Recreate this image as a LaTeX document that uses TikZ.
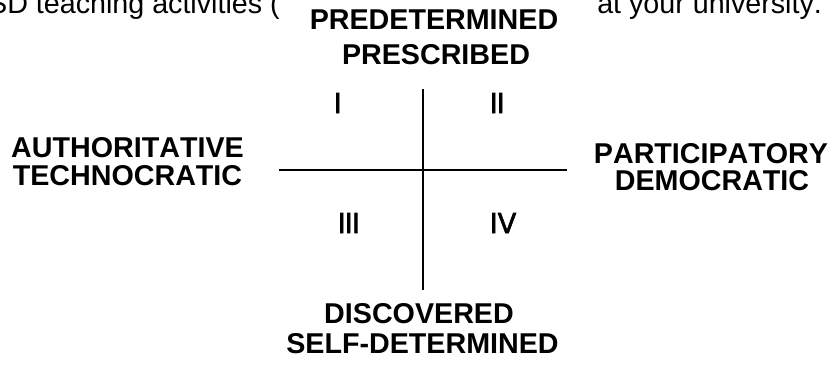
\documentclass[tikz,border=0pt]{standalone}
\usepackage{fontspec}
\setmainfont{Liberation Sans}[Kerning=Off]
\newfontfamily\numfont{Poppins}[FakeBold=2.2]
\begin{document}
\begin{tikzpicture}[x=0.75pt,y=-0.75pt,
  lbl/.style={font=\fontsize{21.5}{24}\selectfont\bfseries, inner sep=0pt, anchor=base},
  num/.style={font=\numfont\fontsize{21.5}{24}\selectfont, inner sep=0pt, anchor=base west},
  toptext/.style={font=\fontsize{21.5}{24}\selectfont, inner sep=0pt},
  axisline/.style={line width=1.5pt, black}]
\useasboundingbox (0,0) rectangle (832,365);
\clip (0,0) rectangle (832,365);
% partially visible sentence at the top
\node[toptext, anchor=base east] (tl) at (280,13) {SD teaching activities (};
\node[toptext, anchor=base west] (tr) at (597,13) {at your university.};
% axes
\coordinate (vt) at (423,89);
\coordinate (vb) at (423,290);
\coordinate (hl) at (279,170);
\coordinate (hr) at (567,170);
\draw[axisline] (vt) -- (vb);
\draw[axisline] (hl) -- (hr);
% pole labels
\node[lbl] (n1) at (434,29.5) {PREDETERMINED};
\node[lbl] (n2) at (436,64) {PRESCRIBED};
\node[lbl] (w1) at (127.5,157.7) {AUTHORITATIVE};
\node[lbl] (w2) at (127.5,185) {TECHNOCRATIC};
\node[lbl] (e1) at (711,163) {PARTICIPATORY};
\node[lbl] (e2) at (712,190) {DEMOCRATIC};
\node[lbl] (s1) at (419,323) {DISCOVERED};
\node[lbl] (s2) at (422.5,353) {SELF-DETERMINED};
% quadrant numerals
\node[num] (q1) at (334,113) {I};
\node[num] (q2) at (490,113) {II};
\node[num] (q3) at (338,233) {III};
\node[num] (q4) at (490,233) {IV};
\end{tikzpicture}
\end{document}
